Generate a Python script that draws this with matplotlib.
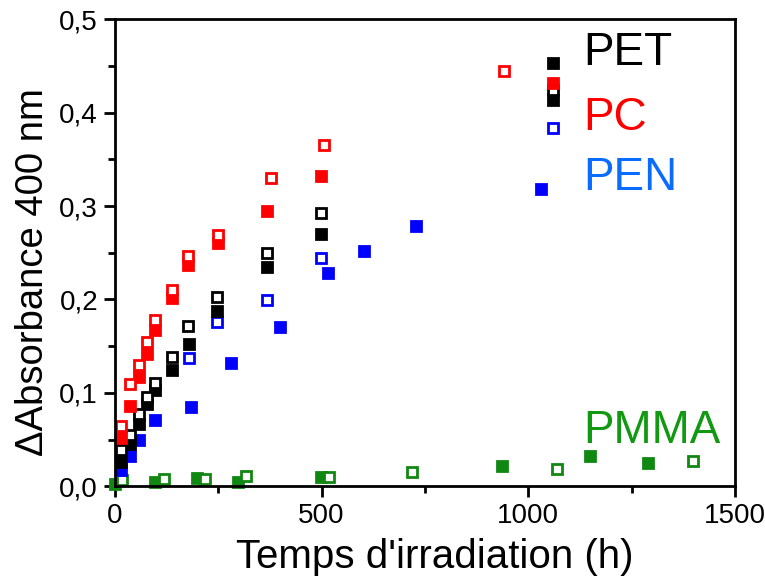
import matplotlib
matplotlib.use("Agg")
import matplotlib.pyplot as plt
from matplotlib.ticker import MultipleLocator, FuncFormatter

plt.rcParams['font.family'] = ['Liberation Sans', 'DejaVu Sans']

# PET
pet_open_t = [16, 38, 59, 78, 97.5, 139, 177, 248, 368, 498, 1060]
pet_open_a = [0.039, 0.055, 0.077, 0.096, 0.110, 0.138, 0.172, 0.203, 0.250, 0.293, 0.424]
pet_fill_t = [16, 38, 59, 78, 97.5, 139, 179, 248, 368, 498, 1060, 1060]
pet_fill_a = [0.026, 0.045, 0.067, 0.0885, 0.103, 0.124, 0.152, 0.188, 0.235, 0.270, 0.414, 0.453]

# PC
pc_open_t = [16, 38, 59, 78, 98.5, 138, 178, 249, 377, 505, 940]
pc_open_a = [0.064, 0.109, 0.130, 0.154, 0.178, 0.210, 0.246, 0.269, 0.330, 0.365, 0.445]
pc_fill_t = [16, 38, 59, 78, 98.5, 138, 178, 249, 368, 498, 1060]
pc_fill_a = [0.052, 0.086, 0.117, 0.142, 0.167, 0.201, 0.237, 0.260, 0.295, 0.332, 0.432]

# PEN
pen_open_t = [179, 248, 368, 498, 1060]
pen_open_a = [0.137, 0.176, 0.199, 0.244, 0.384]
pen_fill_t = [16, 38, 59, 98.5, 184, 281, 400, 516, 602, 729, 1030]
pen_fill_a = [0.017, 0.032, 0.049, 0.071, 0.085, 0.132, 0.170, 0.228, 0.252, 0.279, 0.318]

# PMMA
pmma_open_t = [18.6, 118.5, 218.5, 318.5, 518.5, 718, 1068.5, 1399]
pmma_open_a = [0.007, 0.008, 0.0075, 0.0107, 0.010, 0.0153, 0.018, 0.027]
pmma_fill_t = [0, 97.5, 198, 298, 497.6, 935.6, 1149, 1290]
pmma_fill_a = [0.002, 0.0046, 0.009, 0.0046, 0.010, 0.0214, 0.0325, 0.025]

series = [
    (pmma_fill_t, pmma_fill_a, '#118811', True),
    (pmma_open_t, pmma_open_a, '#118811', False),
    (pen_fill_t, pen_fill_a, '#0000ff', True),
    (pen_open_t, pen_open_a, '#0000ff', False),
    (pet_fill_t, pet_fill_a, '#000000', True),
    (pet_open_t, pet_open_a, '#000000', False),
    (pc_fill_t, pc_fill_a, '#ff0000', True),
    (pc_open_t, pc_open_a, '#ff0000', False),
]

fig = plt.figure(figsize=(7.65, 5.83), dpi=100)
ax = fig.add_axes([0.150, 0.166, 0.811, 0.801])

for t, a, c, filled in series:
    ax.plot(t, a, linestyle='none', marker='s', markersize=7.5,
            markerfacecolor=c if filled else 'white', markeredgecolor=c,
            markeredgewidth=2.0, clip_on=False)

labels = [('PET', 0.451, '#000000'), ('PC', 0.381, '#ff0000'),
          ('PEN', 0.317, '#0a6cff'), ('PMMA', 0.046, '#119911')]
for txt, y, c in labels:
    ax.text(1132, y, txt, color=c, fontsize=33, va='baseline', ha='left')

ax.set_xlim(0, 1500)
ax.set_ylim(0, 0.5)
ax.xaxis.set_major_locator(MultipleLocator(500))
ax.xaxis.set_minor_locator(MultipleLocator(250))
ax.yaxis.set_major_locator(MultipleLocator(0.1))
ax.yaxis.set_minor_locator(MultipleLocator(0.05))
ax.yaxis.set_major_formatter(FuncFormatter(lambda v, p: f'{v:.1f}'.replace('.', ',')))
ax.tick_params(which='major', direction='out', length=8, width=2, labelsize=20, pad=4)
ax.tick_params(which='minor', direction='out', length=5, width=2)
for s in ax.spines.values():
    s.set_linewidth(2)

ax.set_xlabel("Temps d'irradiation (h)", fontsize=29)
ax.set_ylabel('\u0394Absorbance 400 nm', fontsize=27.5)
ax.xaxis.set_label_coords(0.516, -0.11)
ax.yaxis.set_label_coords(-0.103, 0.458)

fig.savefig('out.png', dpi=100)
